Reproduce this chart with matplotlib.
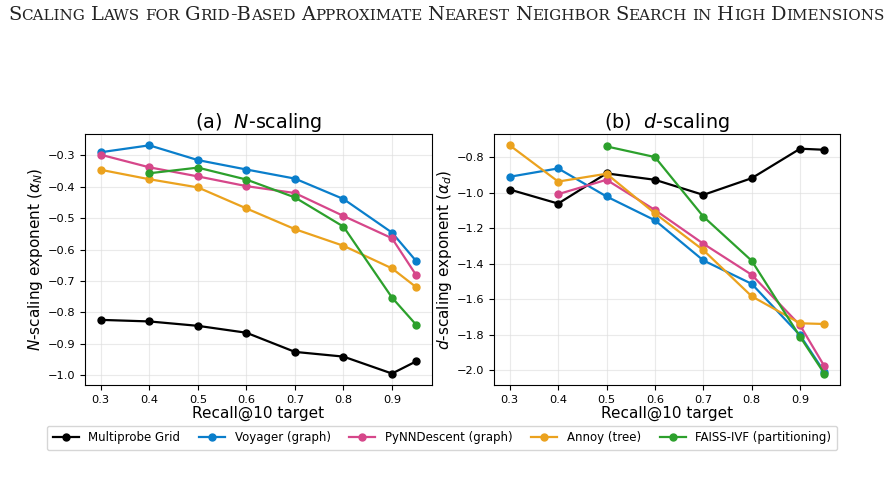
import matplotlib
matplotlib.use("Agg")
import matplotlib.pyplot as plt

# Recall@10 targets
recall = [0.3, 0.4, 0.5, 0.6, 0.7, 0.8, 0.9, 0.95]
recall_from_04 = recall[1:]
recall_from_05 = recall[2:]

methods = ["Multiprobe Grid", "Voyager (graph)", "PyNNDescent (graph)",
           "Annoy (tree)", "FAISS-IVF (partitioning)"]
colors = ["#000000", "#0A7ECB", "#D6478A", "#EBA21E", "#2CA02C"]

# (a) N-scaling exponents
n_grid = [-0.824, -0.829, -0.843, -0.865, -0.926, -0.941, -0.995, -0.956]
n_voyager = [-0.290, -0.268, -0.315, -0.345, -0.374, -0.439, -0.546, -0.637]
n_pynn = [-0.298, -0.338, -0.367, -0.398, -0.420, -0.493, -0.564, -0.682]
n_annoy = [-0.346, -0.376, -0.402, -0.469, -0.535, -0.588, -0.660, -0.720]
n_faiss = [-0.357, -0.339, -0.377, -0.434, -0.527, -0.753, -0.840]

# (b) d-scaling exponents
d_grid = [-0.983, -1.062, -0.892, -0.928, -1.013, -0.919, -0.753, -0.759]
d_voyager = [-0.911, -0.864, -1.022, -1.156, -1.382, -1.514, -1.804, -2.010]
d_pynn = [-1.009, -0.928, -1.098, -1.288, -1.463, -1.748, -1.977]
d_annoy = [-0.734, -0.938, -0.894, -1.117, -1.324, -1.584, -1.736, -1.740]
d_faiss = [-0.740, -0.800, -1.135, -1.384, -1.812, -2.019]

header = "Scaling Laws for Grid-Based Approximate Nearest Neighbor Search in High Dimensions"

fig = plt.figure(figsize=(8.93, 4.8), dpi=100)
ax1 = fig.add_axes([0.0952, 0.198, 0.3886, 0.523])
ax2 = fig.add_axes([0.5532, 0.198, 0.3875, 0.523])

n_series = [(recall, n_grid), (recall, n_voyager), (recall, n_pynn),
            (recall, n_annoy), (recall_from_04, n_faiss)]
d_series = [(recall, d_grid), (recall, d_voyager), (recall_from_04, d_pynn),
            (recall, d_annoy), (recall_from_05, d_faiss)]

handles = []
for (x, y), name, c in zip(n_series, methods, colors):
    h, = ax1.plot(x, y, "-o", color=c, lw=1.6, ms=5, label=name)
    handles.append(h)
for (x, y), c in zip(d_series, colors):
    ax2.plot(x, y, "-o", color=c, lw=1.6, ms=5)

ax1.set_title("(a)  $N$-scaling", fontsize=13.8, pad=3)
ax1.set_ylabel(r"$N$-scaling exponent ($\alpha_N$)", fontsize=11, labelpad=2)
ax2.set_title("(b)  $d$-scaling", fontsize=13.8, pad=3)
ax2.set_ylabel(r"$d$-scaling exponent ($\alpha_d$)", fontsize=11, labelpad=2)
ax1.set_yticks([-1.0, -0.9, -0.8, -0.7, -0.6, -0.5, -0.4, -0.3])
ax2.set_yticks([-2.0, -1.8, -1.6, -1.4, -1.2, -1.0, -0.8])

for ax in (ax1, ax2):
    ax.set_xlabel("Recall@10 target", fontsize=11, labelpad=1)
    ax.set_xticks([0.3, 0.4, 0.5, 0.6, 0.7, 0.8, 0.9])
    ax.tick_params(labelsize=8.2)
    ax.grid(True, color="#dddddd", lw=0.8, alpha=0.6)

fig.legend(handles=handles, loc="center", ncol=5, fontsize=8.5,
           bbox_to_anchor=(0.495, 0.0875), handlelength=2.2,
           columnspacing=1.6, borderpad=0.5)

# page header in small caps, built from runs of big and small letters
def draw_header(size):
    r = fig.canvas.get_renderer()
    x = 0.0
    arts = []
    for wi, word in enumerate(header.split(" ")):
        runs = []
        for ch in word:
            big = not ch.islower()
            if runs and runs[-1][0] == big:
                runs[-1][1] += ch
            else:
                runs.append([big, ch])
        for big, s in runs:
            t = fig.text(0, 0.958, s.upper(), fontsize=size if big else size * 0.78,
                         family="DejaVu Serif", va="baseline", ha="left",
                         color="#222222")
            t.set_x(x)
            arts.append(t)
            x += t.get_window_extent(r).width / fig.bbox.width
        x += size * 0.28 * 100 / 72 / fig.bbox.width
    return arts, x

arts, width = draw_header(12)
for a in arts:
    a.remove()
target = 877 / 893
arts, width = draw_header(12 * target / width)
for a in arts:
    a.set_x(a.get_position()[0] + 0.009)

fig.savefig("out.png", dpi=100)
